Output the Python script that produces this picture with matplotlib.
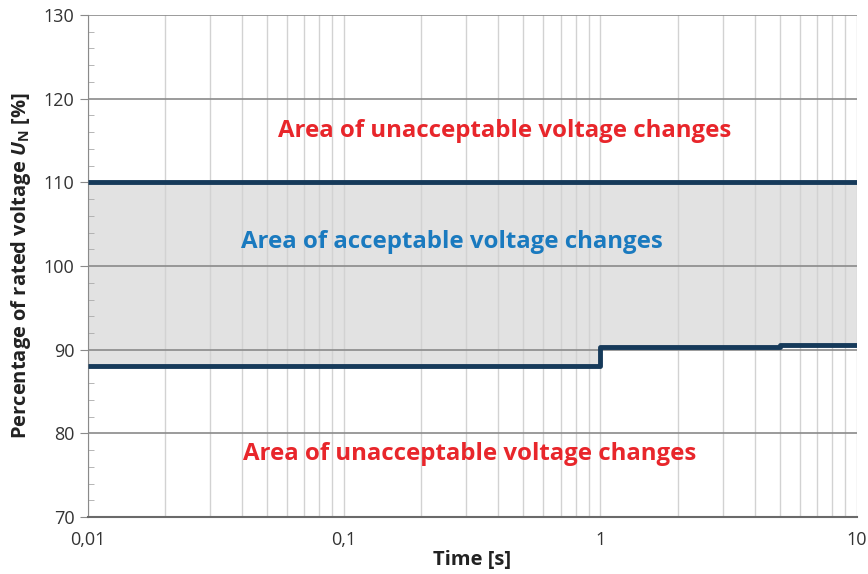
import matplotlib
matplotlib.use("Agg")
from matplotlib import pyplot as plt
from matplotlib.ticker import FixedLocator, MultipleLocator, LogLocator, NullFormatter

# Voltage tolerance band over time
timePoints = [0.01, 1, 5, 10]
upperLimit = [110, 110, 110, 110]
lowerLimit = [88, 90.3, 90.6, 90.6]

xTicks = [0.01, 0.1, 1, 10]
xTickLabels = ["0,01", "0,1", "1", "10"]
yTicks = [70, 80, 90, 100, 110, 120, 130]

plt.rcParams['font.family'] = ['Open Sans', 'DejaVu Sans']
plt.rcParams['mathtext.fontset'] = 'custom'
plt.rcParams['mathtext.it'] = 'Open Sans:italic:bold'
plt.rcParams['mathtext.rm'] = 'Open Sans:bold'


def main():
    fig = plt.figure(figsize=(8.68, 5.74), dpi=100)
    ax = fig.add_axes([0.101, 0.099, 0.886, 0.875])

    ax.set_xscale('log')
    ax.set_xlim(0.01, 10)
    ax.set_ylim(70, 130)

    # shaded acceptable band
    ax.fill_between(timePoints, lowerLimit, upperLimit, step='post',
                    color='#e2e2e2', zorder=1, linewidth=0)

    # grid
    ax.xaxis.set_minor_locator(LogLocator(base=10, subs=range(2, 10)))
    ax.xaxis.set_major_locator(FixedLocator(xTicks))
    ax.set_xticklabels(xTickLabels)
    ax.xaxis.set_minor_formatter(NullFormatter())
    ax.grid(which='both', axis='x', color='#d2d2d2', linewidth=1.0, zorder=2)
    ax.yaxis.set_major_locator(FixedLocator(yTicks))
    ax.yaxis.set_minor_locator(MultipleLocator(2))
    ax.grid(which='major', axis='y', color='#8a8a8a', linewidth=1.2, zorder=2)

    # limit lines
    ax.plot(timePoints, upperLimit, drawstyle='steps-post', color='#163a5a',
            linewidth=3.5, zorder=4, solid_capstyle='butt')
    ax.plot(timePoints, lowerLimit, drawstyle='steps-post', color='#163a5a',
            linewidth=3.5, zorder=4, solid_capstyle='butt')

    for side in ['top', 'right']:
        ax.spines[side].set_visible(False)
    ax.spines['left'].set_color('#8a8a8a')
    ax.spines['bottom'].set_color('#6a6a6a')
    ax.spines['bottom'].set_linewidth(1.5)

    ax.tick_params(axis='both', which='major', labelsize=13, colors='#8a8a8a',
                   labelcolor='#333333', length=6)
    ax.tick_params(axis='x', which='major', length=0, pad=10)
    ax.tick_params(axis='x', which='minor', length=0)
    ax.tick_params(axis='y', which='minor', direction='in', length=4, colors='#aaaaaa')

    # annotations
    ax.text(0.542, 116.1, "Area of unacceptable voltage changes", transform=ax.get_yaxis_transform(),
            ha='center', va='center', color='#e8262b', fontsize=17.3, fontweight='bold', zorder=5)
    ax.text(0.473, 102.9, "Area of acceptable voltage changes", transform=ax.get_yaxis_transform(),
            ha='center', va='center', color='#1a7abf', fontsize=17.3, fontweight='bold', zorder=5)
    ax.text(0.497, 77.6, "Area of unacceptable voltage changes", transform=ax.get_yaxis_transform(),
            ha='center', va='center', color='#e8262b', fontsize=17.3, fontweight='bold', zorder=5)

    ax.set_xlabel("Time [s]", fontsize=14.5, fontweight='bold', color='#222222', labelpad=1)
    ax.set_ylabel(r"Percentage of rated voltage $U_\mathrm{N}$ [%]", fontsize=14.5,
                  fontweight='bold', color='#222222', labelpad=8)

    fig.savefig("out.png", dpi=100)


if __name__ == "__main__":
    main()
